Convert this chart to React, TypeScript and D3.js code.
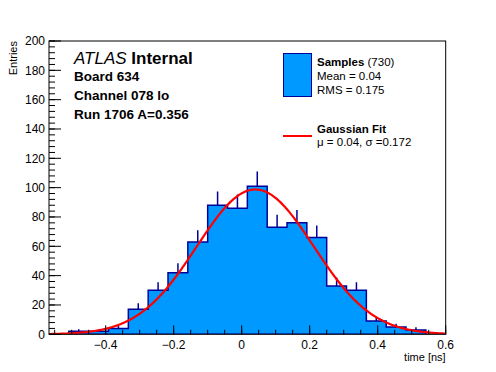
import React from 'react';
import * as d3 from 'd3';

const counts = [0, 2, 2, 4, 17, 30, 42, 63, 88, 86, 101, 73, 76, 66, 33, 30, 9, 5, 3, 0];
const xMin = -0.566667;
const xMax = 0.6;
const yMax = 200;
const xMajorTicks = [-0.4, -0.2, 0, 0.2, 0.4, 0.6];
const xTickLabels = ['\u22120.4', '\u22120.2', '0', '0.2', '0.4', '0.6'];
const yMajorTicks = [0, 20, 40, 60, 80, 100, 120, 140, 160, 180, 200];
const fitMu = 0.04;
const fitSigma = 0.172;
const totalEntries = 730;
const headerLines = ['Board 634', 'Channel 078 lo', 'Run 1706 A=0.356'];

const FONT = '"Liberation Sans", Arial, Helvetica, sans-serif';
const FILL = '#0099ff';
const EDGE = '#000099';

export default function App() {
  const L = 49, R = 445.7, T = 41, B = 334.3;
  const x = d3.scaleLinear().domain([xMin, xMax]).range([L, R]);
  const y = d3.scaleLinear().domain([0, yMax]).range([B, T]);
  const n = counts.length;
  const w = (xMax - xMin) / n;

  // histogram step path
  let p = `M${x(xMin)},${y(0)}`;
  counts.forEach((c, i) => {
    const a = xMin + i * w;
    p += `L${x(a)},${y(c)}L${x(a + w)},${y(c)}`;
  });
  p += `L${x(xMax)},${y(0)}Z`;

  const amp = (totalEntries * w) / (fitSigma * Math.sqrt(2 * Math.PI));
  const pts = d3.range(0, 401).map((k) => {
    const v = xMin + (k / 400) * (xMax - xMin);
    return [v, amp * Math.exp(-0.5 * ((v - fitMu) / fitSigma) ** 2)] as [number, number];
  });
  const curve = d3.line<[number, number]>().x((d) => x(d[0])).y((d) => y(d[1]))(pts) || '';

  const xMinor = d3.range(-55, 61, 5).map((v) => v / 100);
  const yMinor = d3.range(0, 201, 4);

  return (
    <svg width={496} height={372} style={{ position: 'absolute', left: 0, top: 0, background: '#fff' }} fontFamily={FONT}>
      <rect x={0} y={0} width={496} height={372} fill="#fff" />
      <defs>
        <clipPath id="frame">
          <rect x={L} y={T} width={R - L} height={B - T} />
        </clipPath>
      </defs>
      <g clipPath="url(#frame)">
        <path d={p} fill={FILL} stroke={EDGE} strokeWidth={1.5} />
        {counts.map((c, i) =>
          c > 0 ? (
            <line key={i} x1={x(xMin + (i + 0.5) * w)} x2={x(xMin + (i + 0.5) * w)} y1={y(c)} y2={y(c + Math.sqrt(c))} stroke={EDGE} strokeWidth={1.5} />
          ) : null
        )}
        <path d={curve} fill="none" stroke="#ff0000" strokeWidth={2.2} />
      </g>
      <rect x={L} y={T} width={R - L} height={B - T} fill="none" stroke="#000" strokeWidth={1} />
      {/* x ticks */}
      {xMinor.map((v, i) => (
        <line key={'xm' + i} x1={x(v)} x2={x(v)} y1={B} y2={B - 4.5} stroke="#000" />
      ))}
      {xMajorTicks.map((v, i) => (
        <g key={'xM' + i}>
          <line x1={x(v)} x2={x(v)} y1={B} y2={B - 9} stroke="#000" />
          <text x={x(v)} y={349} textAnchor="middle" fontSize={12}>{xTickLabels[i]}</text>
        </g>
      ))}
      {/* y ticks */}
      {yMinor.map((v, i) => (
        <line key={'ym' + i} x1={L} x2={L + 6} y1={y(v)} y2={y(v)} stroke="#000" />
      ))}
      {yMajorTicks.map((v, i) => (
        <g key={'yM' + i}>
          <line x1={L} x2={L + 12} y1={y(v)} y2={y(v)} stroke="#000" />
          <text x={45} y={y(v) + 4.3} textAnchor="end" fontSize={12}>{v}</text>
        </g>
      ))}
      <text x={R} y={361} textAnchor="end" fontSize={11}>time [ns]</text>
      <text transform={`translate(17,${T}) rotate(-90)`} textAnchor="end" fontSize={11}>Entries</text>

      {/* ATLAS label */}
      <text x={74} y={64} fontSize={17}>
        <tspan fontStyle="italic">ATLAS</tspan>
        <tspan fontWeight="bold"> Internal</tspan>
      </text>
      {headerLines.map((t, i) => (
        <text key={t} x={74} y={81 + i * 19} fontSize={13.5} fontWeight="bold">{t}</text>
      ))}

      {/* legend */}
      <rect x={283.5} y={53.5} width={28} height={43} fill={FILL} stroke={EDGE} strokeWidth={1} />
      <text x={317} y={66} fontSize={11.5}>
        <tspan fontWeight="bold">Samples</tspan>
        <tspan> (730)</tspan>
      </text>
      <text x={317} y={80} fontSize={11.5}>Mean = 0.04</text>
      <text x={317} y={94} fontSize={11.5}>RMS = 0.175</text>
      <line x1={283} x2={312} y1={136} y2={136} stroke="#ff0000" strokeWidth={2} />
      <text x={317} y={133} fontSize={11.5} fontWeight="bold">Gaussian Fit</text>
      <text x={317} y={146} fontSize={11.5}>{'\u03bc = 0.04, \u03c3 =0.172'}</text>
    </svg>
  );
}
